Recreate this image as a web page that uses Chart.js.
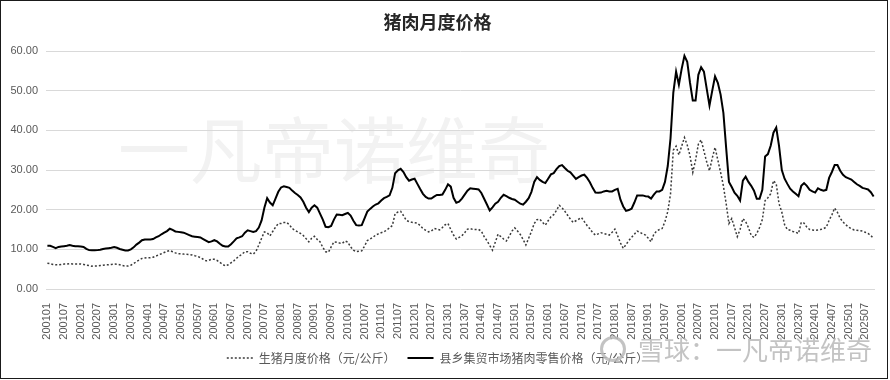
<!DOCTYPE html>
<html>
<head>
<meta charset="utf-8">
<script src="https://cdn.jsdelivr.net/npm/chart.js@4.4.1/dist/chart.umd.min.js"></script>
<style>
html,body{margin:0;padding:0;background:#fff;}
#wrap{position:relative;width:890px;height:380px;overflow:hidden;background:#fff;}
#frame{position:absolute;left:0;top:0;width:888px;height:379px;border:1.5px solid #1a1a1a;box-sizing:border-box;z-index:4;pointer-events:none;}
#wm{position:absolute;left:118px;top:110px;font-family:"Noto Sans CJK SC";font-size:72px;line-height:1;color:#f2f2f2;z-index:0;white-space:nowrap;}
#c{position:absolute;left:0;top:0;z-index:1;}
#xq{position:absolute;left:600px;top:336px;z-index:3;white-space:nowrap;display:flex;align-items:center;}
#xq .logo{width:20px;height:20px;border:3px solid rgba(185,185,185,0.85);border-radius:50%;margin-right:12px;}
#xq span{font-family:"Noto Sans CJK SC";font-size:26px;line-height:1;color:rgba(185,185,185,0.85);}
</style>
</head>
<body>
<div id="wrap">
  <div id="wm">一凡帝诺维奇</div>
  <canvas id="c" width="890" height="380"></canvas>
  <div id="xq"><div class="logo"></div><span>雪球：一凡帝诺维奇</span></div>
  <div id="frame"></div>
</div>
<script>
const chartTitle = '猪肉月度价格';
const seriesNames = ['生猪月度价格（元/公斤）', '县乡集贸市场猪肉零售价格（元/公斤）'];
const startYear = 2001, endYear = 2025, endMonth = 10;
const yTicks = [0, 10, 20, 30, 40, 50, 60];

// 生猪月度价格 (元/公斤), 2001-01 .. 2025-10
const hogPrice = [
  6.5, 6.4, 6.2, 6.1, 6.1, 6.2, 6.3, 6.3, 6.4, 6.3, 6.3, 6.3,
  6.3, 6.2, 6.0, 5.9, 5.75, 5.8, 5.8, 5.9, 6.0, 6.1, 6.1, 6.2,
  6.3, 6.25, 6.1, 5.9, 5.8, 5.8, 6.0, 6.4, 6.9, 7.3, 7.7, 7.8,
  7.9, 7.9, 8.0, 8.3, 8.6, 8.9, 9.2, 9.5, 9.7, 9.4, 9.1, 8.9,
  8.9, 8.8, 8.75, 8.7, 8.6, 8.4, 8.25, 7.9, 7.5, 7.1, 7.2, 7.5,
  7.5, 7.2, 6.7, 6.2, 5.8, 6.1, 6.6, 7.1, 7.75, 8.3, 8.8, 9.4,
  9.4, 9.0, 8.8, 9.5, 11.1, 12.8, 14.4, 14.2, 13.4, 14.5, 15.6, 16.5,
  16.5, 16.75, 16.8, 16.2, 15.25, 14.8, 14.4, 14.0, 13.5, 12.7, 11.9, 12.8,
  13.3, 12.5, 11.9, 10.5, 9.4, 9.25, 10.6, 11.9, 11.8, 11.6, 11.5, 12.1,
  11.8, 10.6, 9.8, 9.4, 9.5, 9.6, 10.8, 12.2, 12.6, 13.0, 13.6, 13.9,
  14.2, 14.4, 14.9, 15.4, 16.0, 19.0, 19.4, 19.6, 18.5, 17.3, 17.0, 16.8,
  16.7, 16.6, 16.0, 15.25, 14.8, 14.4, 14.6, 15.25, 15.1, 14.9, 15.5, 16.2,
  16.5, 15.0, 13.6, 12.6, 13.0, 13.4, 14.2, 15.1, 15.2, 15.0, 15.0, 15.0,
  14.6, 13.2, 12.2, 11.0, 9.8, 11.8, 13.8, 13.2, 12.6, 12.1, 13.3, 14.6,
  15.4, 14.6, 13.75, 12.5, 11.1, 12.8, 14.5, 16.5, 17.5, 17.6, 16.8, 16.1,
  17.2, 18.2, 18.75, 19.8, 21.1, 20.5, 19.6, 18.6, 17.6, 16.8, 17.2, 17.6,
  18.0, 17.0, 16.0, 15.2, 14.2, 13.6, 13.9, 14.2, 14.0, 13.8, 13.6, 14.3,
  15.1, 13.4, 11.6, 10.25, 11.2, 12.2, 13.0, 13.8, 14.6, 14.3, 13.9, 13.6,
  12.8, 11.9, 13.8, 14.6, 15.0, 15.25, 17.0, 19.5, 24.0, 35.0, 36.0, 33.8,
  36.0, 38.2, 36.3, 33.6, 29.4, 32.5, 36.5, 37.6, 34.8, 32.0, 29.8, 33.0,
  35.7, 32.5, 29.4, 26.0, 21.5, 16.5, 17.75, 15.5, 13.2, 15.0, 17.75, 17.0,
  15.5, 13.5, 13.0, 14.0, 15.5, 17.5, 22.3, 23.0, 24.0, 27.3, 26.5, 21.5,
  19.4, 16.2, 15.0, 14.8, 14.5, 14.3, 14.0, 16.8, 16.6, 15.6, 15.0, 14.9,
  14.8, 14.9, 15.0, 15.2, 15.6, 17.3, 18.7, 20.4, 19.3, 17.8, 16.9, 16.2,
  15.6, 15.2, 14.9, 14.8, 14.7, 14.6, 14.3, 14.0, 13.5, 12.7
];

// 县乡集贸市场猪肉零售价格 (元/公斤), 2001-01 .. 2025-10
const porkRetail = [
  10.9, 10.9, 10.6, 10.3, 10.6, 10.7, 10.8, 10.9, 11.1, 10.9, 10.8, 10.8,
  10.7, 10.6, 10.1, 9.8, 9.75, 9.75, 9.8, 9.9, 10.1, 10.2, 10.3, 10.4,
  10.6, 10.4, 10.1, 9.9, 9.7, 9.7, 10.0, 10.5, 11.2, 11.7, 12.3, 12.5,
  12.5, 12.5, 12.6, 13.0, 13.3, 13.8, 14.2, 14.6, 15.2, 14.9, 14.5, 14.4,
  14.3, 14.2, 13.9, 13.6, 13.3, 13.2, 13.1, 13.0, 12.6, 12.2, 11.8, 12.0,
  12.3, 12.0, 11.4, 10.9, 10.7, 10.7, 11.3, 12.0, 12.75, 13.0, 13.3, 14.2,
  14.8, 14.6, 14.4, 14.6, 15.5, 17.3, 20.5, 22.9, 21.8, 21.1, 22.8, 24.5,
  25.6, 25.9, 25.7, 25.5, 24.8, 24.2, 23.7, 23.1, 22.0, 20.5, 19.4, 20.5,
  21.1, 20.5, 19.0, 17.5, 15.7, 15.6, 15.9, 17.5, 18.75, 18.7, 18.6, 18.9,
  19.2, 18.5, 17.2, 16.1, 16.0, 16.1, 17.8, 19.5, 20.2, 20.8, 21.3, 21.6,
  22.3, 22.9, 23.2, 23.6, 25.5, 29.2, 29.9, 30.3, 29.5, 28.2, 27.3, 27.6,
  27.8, 26.5, 25.2, 24.0, 23.2, 22.8, 22.8, 23.3, 23.7, 23.7, 23.8, 25.0,
  26.4, 25.8, 23.0, 21.75, 22.0, 22.8, 23.8, 24.8, 25.4, 25.3, 25.2, 25.1,
  24.2, 22.75, 21.3, 19.8, 20.6, 21.5, 22.0, 23.0, 23.75, 23.4, 23.0, 22.7,
  22.5, 22.0, 21.5, 21.25, 22.0, 22.9, 24.5, 27.0, 28.2, 27.5, 27.0, 26.7,
  27.8, 28.9, 29.2, 30.2, 31.0, 31.25, 30.5, 29.8, 29.4, 28.6, 27.75, 28.2,
  28.6, 28.8, 28.0, 26.9, 25.5, 24.3, 24.25, 24.3, 24.6, 24.75, 24.6, 24.6,
  25.0, 25.25, 22.5, 20.8, 19.7, 19.9, 20.25, 21.8, 23.6, 23.6, 23.6, 23.4,
  23.3, 22.8, 23.8, 24.6, 24.6, 25.0, 27.0, 31.0, 38.0, 49.5, 54.8, 51.5,
  55.5, 58.8, 57.3, 52.0, 47.5, 47.5, 54.0, 55.9, 54.8, 50.5, 46.25, 50.0,
  53.6, 52.0, 49.0, 44.4, 35.5, 27.0, 25.7, 24.3, 23.5, 22.3, 27.3, 28.3,
  27.0, 26.0, 24.8, 22.75, 22.75, 25.0, 33.4, 34.0, 36.1, 39.4, 40.7, 36.1,
  30.0, 27.8, 26.5, 25.3, 24.6, 24.0, 23.4, 26.0, 26.7, 26.0, 25.0, 24.6,
  24.3, 25.4, 25.0, 24.8, 25.0, 28.0, 29.5, 31.25, 31.25, 29.8, 28.8, 28.2,
  27.9, 27.6, 27.0, 26.4, 26.0, 25.5, 25.3, 25.1, 24.4, 23.3
];

// category labels yyyymm
const months = [];
for (let y = startYear; y <= endYear; y++) {
  const last = (y === endYear) ? endMonth : 12;
  for (let m = 1; m <= last; m++) months.push(String(y) + (m < 10 ? '0' + m : String(m)));
}

const tickFont = { family: '"Liberation Sans", Arial, sans-serif', size: 11 };

new Chart(document.getElementById('c'), {
  type: 'line',
  data: {
    labels: months,
    datasets: [
      {
        label: seriesNames[0],
        data: hogPrice,
        borderColor: '#3a3a3a',
        borderWidth: 1.5,
        borderDash: [2, 2],
        pointRadius: 0,
        pointStyle: 'line',
        tension: 0,
        fill: false
      },
      {
        label: seriesNames[1],
        data: porkRetail,
        borderColor: '#000000',
        borderWidth: 2,
        pointRadius: 0,
        pointStyle: 'line',
        tension: 0,
        fill: false
      }
    ]
  },
  options: {
    responsive: false,
    animation: false,
    layout: { padding: { left: 0, right: 15, top: 0, bottom: 6 } },
    plugins: {
      title: {
        display: true,
        text: chartTitle,
        color: '#262626',
        font: { family: '"Noto Sans CJK SC"', size: 18, weight: 'bold' },
        padding: { top: 11, bottom: 18.4 }
      },
      legend: {
        position: 'bottom',
        labels: {
          usePointStyle: true,
          pointStyleWidth: 26,
          boxHeight: 12,
          color: '#595959',
          font: { family: '"Noto Sans CJK SC"', size: 12 },
          padding: 12,
          generateLabels: function (chart) {
            const items = Chart.defaults.plugins.legend.labels.generateLabels(chart);
            items.forEach(function (it) {
              const ds = chart.data.datasets[it.datasetIndex];
              it.lineDash = ds.borderDash || [];
              it.strokeStyle = ds.borderColor;
              it.lineWidth = ds.borderWidth;
              it.pointStyle = 'line';
            });
            return items;
          }
        }
      },
      tooltip: { enabled: false }
    },
    scales: {
      x: {
        type: 'category',
        offset: true,
        grid: { display: false },
        border: { display: false },
        ticks: {
          autoSkip: false,
          maxRotation: 90,
          minRotation: 90,
          padding: 6,
          color: '#595959',
          font: tickFont,
          callback: function (v, i) { return i % 6 === 0 ? this.getLabelForValue(v) : null; }
        },
        afterFit: function (s) { s.height = 51; }
      },
      y: {
        min: yTicks[0],
        max: yTicks[yTicks.length - 1],
        ticks: {
          stepSize: 10,
          padding: 8,
          color: '#595959',
          font: tickFont,
          callback: function (v) { return Number(v).toFixed(2); }
        },
        grid: { color: '#d9d9d9', drawTicks: false, lineWidth: 1 },
        border: { display: false },
        afterFit: function (s) { s.width = 46; }
      }
    }
  }
});
</script>
</body>
</html>
